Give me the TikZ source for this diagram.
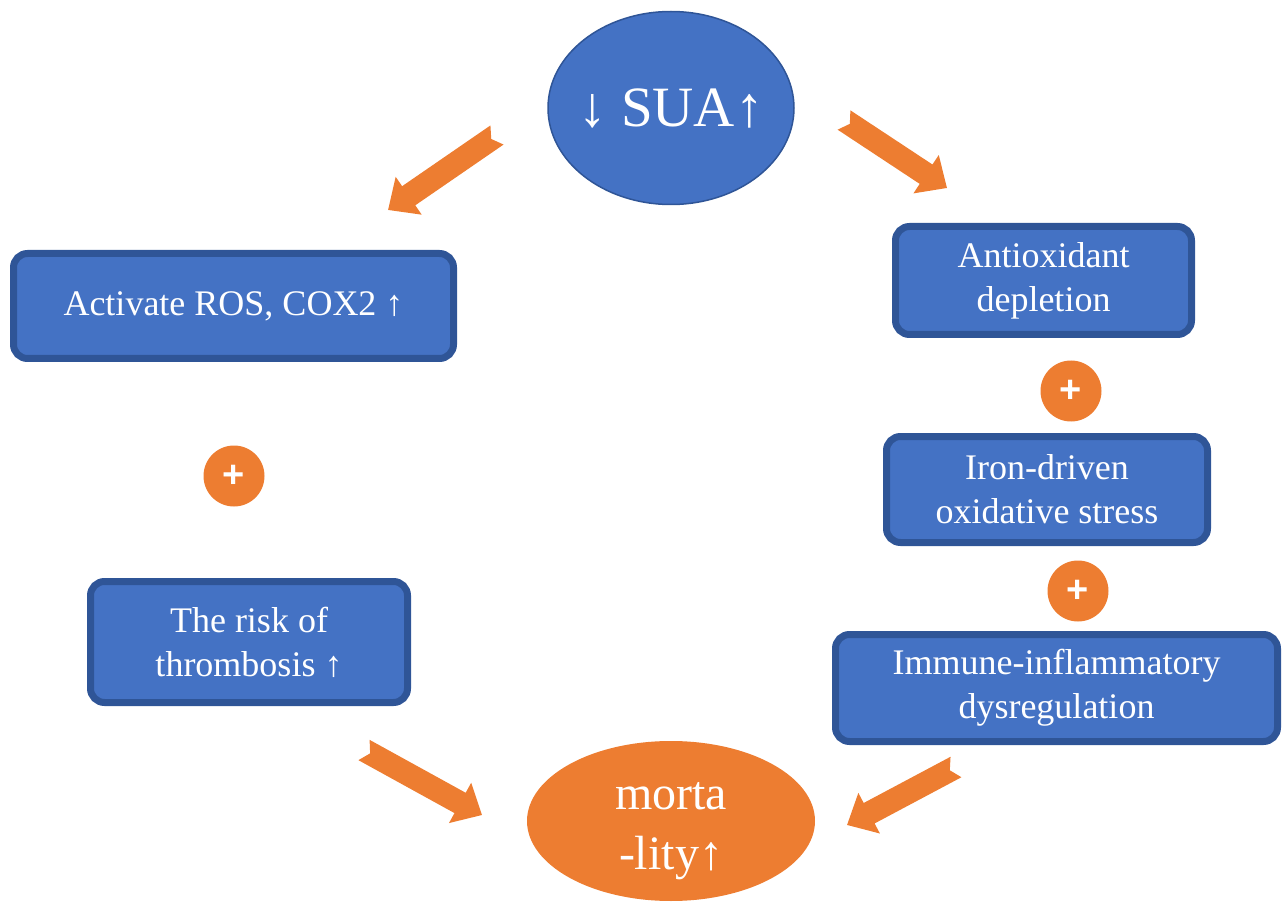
\documentclass[tikz,border=0pt]{standalone}
\usepackage{fontspec}
\setmainfont{Liberation Serif}
\newfontfamily\plusfont{Liberation Sans}
\usetikzlibrary{positioning,shapes.geometric}
\definecolor{figblue}{HTML}{4472C4}
\definecolor{figline}{HTML}{2F5597}
\definecolor{figorange}{HTML}{ED7D31}

% notched block arrow from #1 to #2
\newcommand\blockarrow[2]{%
  \pgfpointdiff{\pgfpointanchor{#1}{center}}{\pgfpointanchor{#2}{center}}%
  \pgfgetlastxy{\arx}{\ary}%
  \pgfmathsetmacro\arlen{veclen(\arx,\ary)}%
  \pgfmathsetmacro\arang{atan2(\ary,\arx)}%
  \fill[figorange, shift={(#1)}, rotate=\arang, x=1pt, y=1pt]
    (0,5.8) -- (\arlen-12.5,5.8) -- (\arlen-12.5,11.5) -- (\arlen,0)
    -- (\arlen-12.5,-11.5) -- (\arlen-12.5,-5.8) -- (0,-5.8) -- (3.5,0) -- cycle;}

\begin{document}
\begin{tikzpicture}[
  x=0.5pt, y=-0.5pt,
  cause/.style={draw=figline, line width=3.5pt, rounded corners=7pt, fill=figblue,
                text=white, align=center, inner sep=0pt,
                font=\fontsize{18}{22}\selectfont},
  sua/.style={ellipse, draw=figline, line width=0.75pt, fill=figblue, inner sep=0pt},
  outcome/.style={ellipse, fill=figorange, inner sep=0pt},
  bigtext/.style={text=white, align=center, inner sep=0pt},
  plus/.style={circle, fill=figorange, text=white, minimum size=30.5pt, inner sep=0pt,
               font=\plusfont\bfseries\fontsize{19}{19}\selectfont}
]
\useasboundingbox (0,0) rectangle (1282,904);
% top and bottom
\node[sua, minimum width=123pt, minimum height=96.5pt,
      label={[bigtext, font=\fontsize{28.5}{30}\selectfont]center:{↓ SUA↑}}] (sua) at (671,108) {};
\node[outcome, minimum width=144pt, minimum height=80pt,
      label={[bigtext, yshift=-5pt, font=\fontsize{24}{30}\selectfont]center:{morta\\-lity↑}}] (mort) at (671,821) {};
% left branch
\node[cause, minimum width=220pt, minimum height=52.5pt] (ros) at (233.5,306) {Activate ROS, COX2 ↑};
\node[plus] (p1) at (234,476) {+};
\node[cause, minimum width=158.5pt, minimum height=60.5pt] (thromb) at (249,642) {The risk of\\thrombosis ↑};
% right branch
\node[cause, minimum width=148pt, minimum height=54pt] (anti) at (1043.5,280.5) {Antioxidant\\depletion};
\node[cause, minimum width=160.5pt, minimum height=53pt, below=47.5pt of anti, xshift=1.75pt] (iron) {Iron-driven\\oxidative stress};
\node[cause, minimum width=221pt, minimum height=53.5pt, below=42.5pt of iron, xshift=4.75pt] (immune) {Immune-inflammatory\\dysregulation};
\node[plus] (p2) at (1071,391) {+};
\node[plus] (p3) at (1078,591) {+};
% block arrows
\coordinate (tl-from) at (497,135);  \coordinate (tl-to) at (388,210);
\coordinate (tr-from) at (844,120);  \coordinate (tr-to) at (947,188);
\coordinate (bl-from) at (364,750);  \coordinate (bl-to) at (482,815);
\coordinate (br-from) at (956,767);  \coordinate (br-to) at (847,825);
\blockarrow{tl-from}{tl-to}
\blockarrow{tr-from}{tr-to}
\blockarrow{bl-from}{bl-to}
\blockarrow{br-from}{br-to}
\end{tikzpicture}
\end{document}
